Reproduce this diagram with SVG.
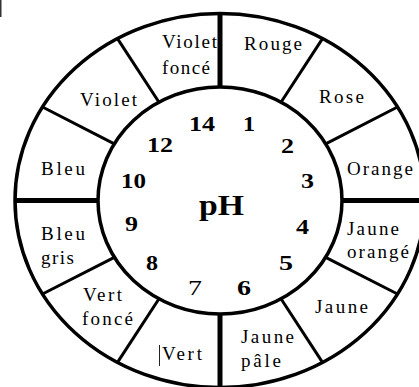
<svg xmlns="http://www.w3.org/2000/svg" width="419" height="387" viewBox="0 0 419 387">
<style>
.ring{fill:none;stroke:#000;stroke-width:3.5}
.div{stroke:#000;stroke-width:3;stroke-linecap:butt}
.thick{stroke:#000;stroke-width:5}
.lbl{font-family:'Liberation Serif','DejaVu Serif',serif;font-size:19px;fill:#000}
.num{font-family:'Liberation Serif','DejaVu Serif',serif;font-size:20px;font-weight:bold;fill:#000}
.ph{font-family:'Liberation Serif','DejaVu Serif',serif;font-size:30px;font-weight:bold;fill:#000}
</style>
<rect x="0" y="0" width="1.5" height="17" fill="#333"/>
<g id="rings">
<ellipse class="ring" cx="220" cy="200.5" rx="205" ry="187"/>
<ellipse class="ring" cx="220" cy="200.5" rx="122" ry="113.5"/>
</g>
<g id="connectors">
<line class="thick" x1="220" y1="13" x2="220" y2="87"/>
<line class="thick" x1="220" y1="314" x2="220" y2="388"/>
<line class="thick" x1="14" y1="200.5" x2="98" y2="200.5"/>
<line class="thick" x1="342" y1="200.5" x2="419" y2="200.5"/>
<line class="div" x1="281" y1="102.2" x2="322.5" y2="38.6"/>
<line class="div" x1="325.7" y1="143.8" x2="397.5" y2="107"/>
<line class="div" x1="325.7" y1="257.3" x2="397.5" y2="294"/>
<line class="div" x1="281" y1="298.8" x2="322.5" y2="362.4"/>
<line class="div" x1="159" y1="298.8" x2="117.5" y2="362.4"/>
<line class="div" x1="114.3" y1="257.3" x2="42.5" y2="294"/>
<line class="div" x1="114.3" y1="143.8" x2="42.5" y2="107"/>
<line class="div" x1="159" y1="102.2" x2="117.5" y2="38.6"/>
</g>
<g id="seg-violet-fonce"><text class="lbl" x="162" y="48" textLength="55" lengthAdjust="spacing">Violet</text><text class="lbl" x="162" y="74" textLength="48" lengthAdjust="spacing">foncé</text></g>
<g id="seg-rouge"><text class="lbl" x="244" y="50" textLength="58" lengthAdjust="spacing">Rouge</text></g>
<g id="seg-rose"><text class="lbl" x="319" y="103" textLength="45" lengthAdjust="spacing">Rose</text></g>
<g id="seg-orange"><text class="lbl" x="347" y="175" textLength="66" lengthAdjust="spacing">Orange</text></g>
<g id="seg-jaune-orange"><text class="lbl" x="347" y="235" textLength="52" lengthAdjust="spacing">Jaune</text><text class="lbl" x="347" y="258" textLength="62" lengthAdjust="spacing">orangé</text></g>
<g id="seg-jaune"><text class="lbl" x="315" y="313" textLength="53" lengthAdjust="spacing">Jaune</text></g>
<g id="seg-jaune-pale"><text class="lbl" x="241" y="343" textLength="53" lengthAdjust="spacing">Jaune</text><text class="lbl" x="241" y="367" textLength="40" lengthAdjust="spacing">pâle</text></g>
<g id="seg-vert"><line x1="159.5" y1="345" x2="159.5" y2="366" stroke="#222" stroke-width="1"/><text class="lbl" x="162" y="360" textLength="40" lengthAdjust="spacing">Vert</text></g>
<g id="seg-vert-fonce"><text class="lbl" x="83" y="301" textLength="39" lengthAdjust="spacing">Vert</text><text class="lbl" x="82" y="325" textLength="51" lengthAdjust="spacing">foncé</text></g>
<g id="seg-bleu-gris"><text class="lbl" x="41" y="240" textLength="44" lengthAdjust="spacing">Bleu</text><text class="lbl" x="41" y="264" textLength="33" lengthAdjust="spacing">gris</text></g>
<g id="seg-bleu"><text class="lbl" x="41" y="175" textLength="44" lengthAdjust="spacing">Bleu</text></g>
<g id="seg-violet"><text class="lbl" x="80" y="106" textLength="57" lengthAdjust="spacing">Violet</text></g>
<g id="center">
<text class="ph" x="199" y="215" textLength="45" lengthAdjust="spacingAndGlyphs">pH</text>
<text class="num" x="189" y="131" textLength="26" lengthAdjust="spacingAndGlyphs">14</text>
<text class="num" x="243" y="131" textLength="12" lengthAdjust="spacingAndGlyphs">1</text>
<text class="num" x="147" y="152" textLength="26" lengthAdjust="spacingAndGlyphs">12</text>
<text class="num" x="281" y="153" textLength="13" lengthAdjust="spacingAndGlyphs">2</text>
<text class="num" x="301" y="188" textLength="13" lengthAdjust="spacingAndGlyphs">3</text>
<text class="num" x="121" y="188" textLength="25" lengthAdjust="spacingAndGlyphs">10</text>
<text class="num" x="125" y="231" textLength="13" lengthAdjust="spacingAndGlyphs">9</text>
<text class="num" x="296" y="234" textLength="13" lengthAdjust="spacingAndGlyphs">4</text>
<text class="num" x="146" y="270" textLength="12" lengthAdjust="spacingAndGlyphs">8</text>
<text class="num" x="279" y="270" textLength="14" lengthAdjust="spacingAndGlyphs">5</text>
<text class="lbl" x="188" y="295" style="font-size:20px" textLength="14" lengthAdjust="spacingAndGlyphs">7</text>
<text class="num" x="237" y="295" textLength="14" lengthAdjust="spacingAndGlyphs">6</text>
</g>
</svg>
